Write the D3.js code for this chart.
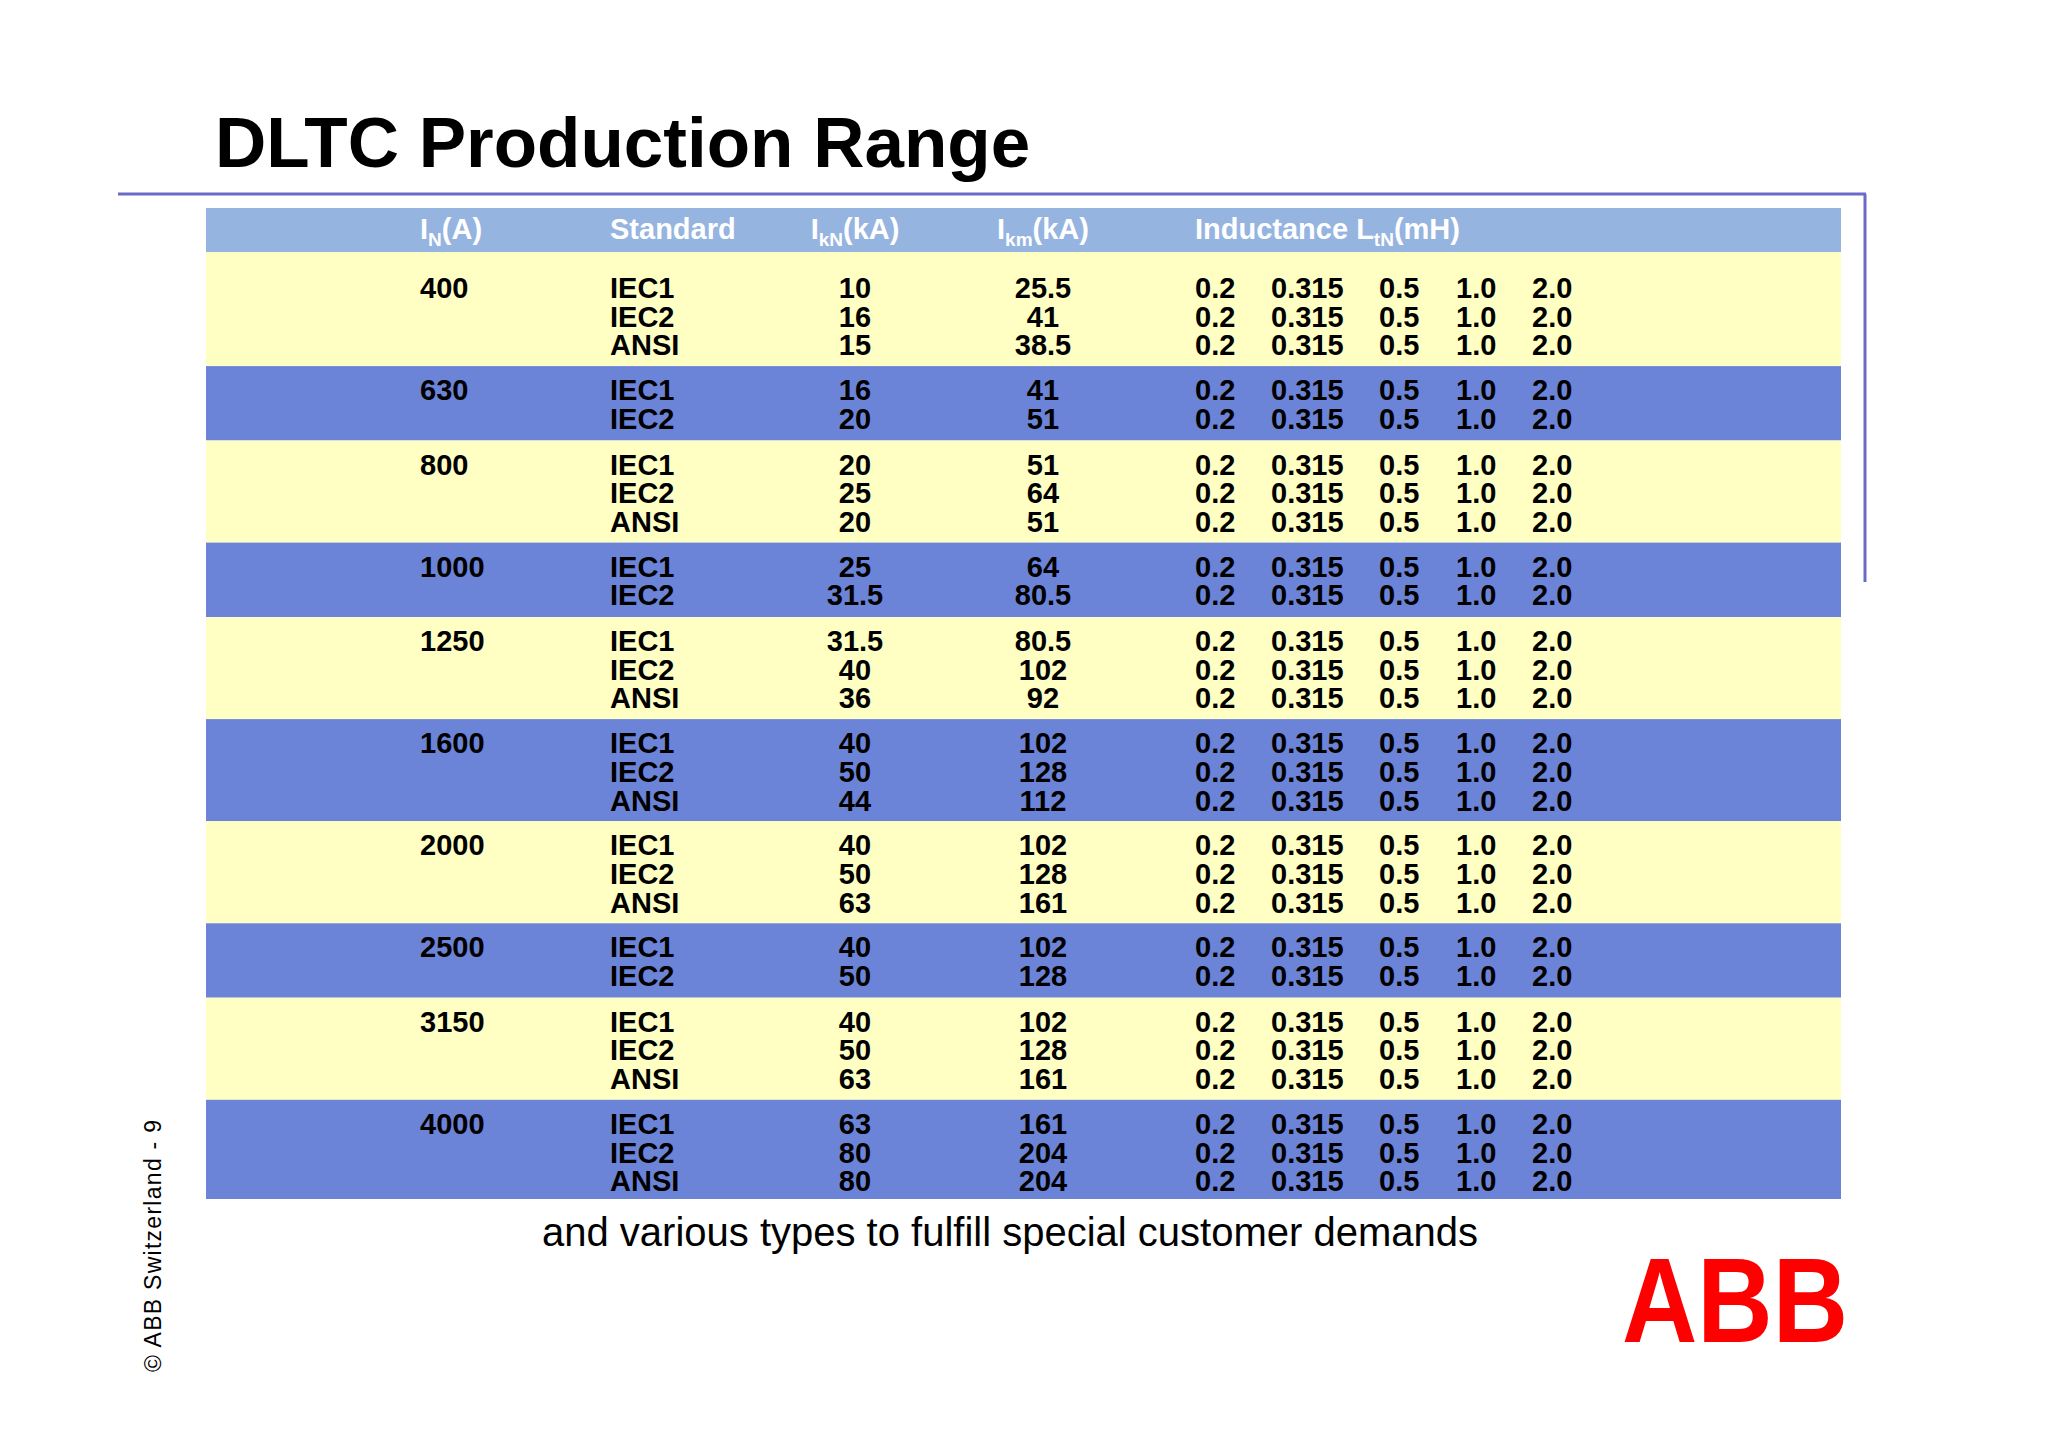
<!DOCTYPE html>
<html><head><meta charset="utf-8">
<script src="https://cdn.jsdelivr.net/npm/d3@7"></script>
<style>body{margin:0;background:#fff}svg{display:block}text{font-family:"Liberation Sans",Arial,sans-serif}</style>
</head><body>
<script>
// data
var ratings = ['400', '630', '800', '1000', '1250', '1600', '2000', '2500', '3150', '4000'];
var standards = [
  ['IEC1', 'IEC2', 'ANSI'], ['IEC1', 'IEC2'], ['IEC1', 'IEC2', 'ANSI'], ['IEC1', 'IEC2'],
  ['IEC1', 'IEC2', 'ANSI'], ['IEC1', 'IEC2', 'ANSI'], ['IEC1', 'IEC2', 'ANSI'], ['IEC1', 'IEC2'],
  ['IEC1', 'IEC2', 'ANSI'], ['IEC1', 'IEC2', 'ANSI']
];
var ikN = [['10', '16', '15'], ['16', '20'], ['20', '25', '20'], ['25', '31.5'], ['31.5', '40', '36'],
  ['40', '50', '44'], ['40', '50', '63'], ['40', '50'], ['40', '50', '63'], ['63', '80', '80']];
var ikm = [['25.5', '41', '38.5'], ['41', '51'], ['51', '64', '51'], ['64', '80.5'], ['80.5', '102', '92'],
  ['102', '128', '112'], ['102', '128', '161'], ['102', '128'], ['102', '128', '161'], ['161', '204', '204']];
var inductances = ['0.2', '0.315', '0.5', '1.0', '2.0'];

var W = 2048, H = 1447;
var svg = d3.select('body').append('svg').attr('width', W).attr('height', H);

// title + frame lines
svg.append('text').attr('x', 215).attr('y', 167).attr('font-size', 71).attr('font-weight', 'bold')
  .attr('fill', '#000').text('DLTC Production Range');
svg.append('line').attr('x1', 118).attr('x2', 1866).attr('y1', 194).attr('y2', 194)
  .attr('stroke', '#6a6ac8').attr('stroke-width', 3);
svg.append('line').attr('x1', 1865).attr('x2', 1865).attr('y1', 194).attr('y2', 582)
  .attr('stroke', '#6a6ac8').attr('stroke-width', 3);

var tableLeft = 206, tableRight = 1841, headTop = 208, headBottom = 252;
var lineH = 28.7;

// band extents
var bands = [], y0 = headBottom;
ratings.forEach(function (r, i) {
  var n = standards[i].length;
  var h = n * lineH + (n === 3 ? 16 : 17) + (i === 0 ? 12 : 0);
  if (i === ratings.length - 1) h = 1199 - y0;
  bands.push({i: i, y: y0, h: h, top: (i === 0 ? 46 : 34)});
  y0 += h;
});

svg.append('rect').attr('x', tableLeft).attr('y', headTop).attr('width', tableRight - tableLeft)
  .attr('height', headBottom - headTop).attr('fill', '#95b4df');

var colX = {rating: 420, std: 610, ikN: 855, ikm: 1043};
var indPos = {'0.2': 1195, '0.315': 1271, '0.5': 1379, '1.0': 1456, '2.0': 1532};

var head = svg.append('g').attr('font-size', 29).attr('font-weight', 'bold').attr('fill', '#fff');
var hy = 239;
function headSub(x, main, sub, unit, anchor) {
  var t = head.append('text').attr('x', x).attr('y', hy).attr('text-anchor', anchor || 'start');
  t.append('tspan').text(main);
  t.append('tspan').attr('font-size', 19).attr('dy', 7).text(sub);
  t.append('tspan').attr('dy', -7).text('(' + unit + ')');
}
headSub(colX.rating, 'I', 'N', 'A');
head.append('text').attr('x', colX.std).attr('y', hy).text('Standard');
headSub(colX.ikN, 'I', 'kN', 'kA', 'middle');
headSub(colX.ikm, 'I', 'km', 'kA', 'middle');
headSub(1195, 'Inductance L', 'tN', 'mH');

var body = svg.append('g').attr('font-size', 29).attr('font-weight', 'bold').attr('fill', '#000');
bands.forEach(function (b) {
  var i = b.i;
  svg.insert('rect', 'g').attr('x', tableLeft).attr('y', b.y).attr('width', tableRight - tableLeft)
    .attr('height', b.h).attr('fill', i % 2 ? '#6c84d7' : '#ffffc4');
  var by = b.y + b.top;
  body.append('text').attr('x', colX.rating).attr('y', by).text(ratings[i]);
  standards[i].forEach(function (s, k) {
    var ly = by + k * lineH;
    body.append('text').attr('x', colX.std).attr('y', ly).text(s);
    body.append('text').attr('x', colX.ikN).attr('y', ly).attr('text-anchor', 'middle').text(ikN[i][k]);
    body.append('text').attr('x', colX.ikm).attr('y', ly).attr('text-anchor', 'middle').text(ikm[i][k]);
    inductances.forEach(function (v) {
      body.append('text').attr('x', indPos[v]).attr('y', ly).text(v);
    });
  });
});

svg.append('text').attr('x', 1010).attr('y', 1246).attr('text-anchor', 'middle').attr('font-size', 40)
  .text('and various types to fulfill special customer demands');

svg.append('text').attr('x', 1622).attr('y', 1342).attr('font-size', 120).attr('font-weight', 'bold')
  .attr('fill', '#ff0000').attr('textLength', 226).attr('lengthAdjust', 'spacingAndGlyphs').text('ABB');

svg.append('text').attr('transform', 'translate(161,1372) rotate(-90)').attr('font-size', 23)
  .attr('fill', '#000').text('© ABB Switzerland - 9').attr('textLength', 252);
</script>
</body></html>
